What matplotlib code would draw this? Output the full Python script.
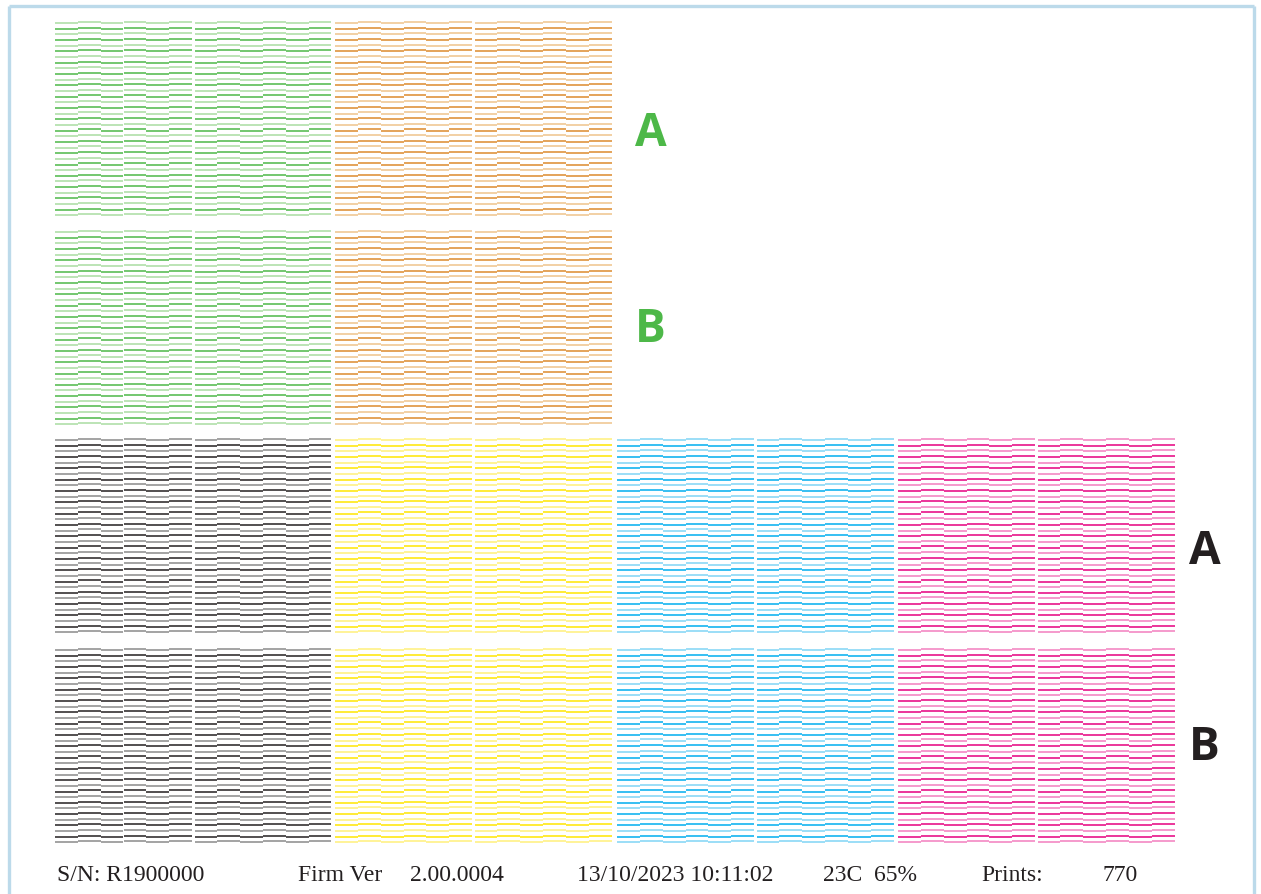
import numpy as np
import matplotlib
matplotlib.use("Agg")
from matplotlib import pyplot as plt
from matplotlib.collections import LineCollection

# ink channels (dark shade, light shade)
top_inks = ["green", "orange"]
bottom_inks = ["black", "yellow", "cyan", "magenta"]
ink_colors = {
    "green": ("#4db848", "#a9dca2"),
    "orange": ("#dc8a2c", "#efc48c"),
    "black": ("#231f20", "#8a8a8a"),
    "yellow": ("#ffe600", "#fff07a"),
    "cyan": ("#00aeef", "#80d4f5"),
    "magenta": ("#e6007e", "#f27fbe"),
}
row_labels = ["A", "B"]
n_rows = 35
n_segments = 6
n_halves = 2

footer = [
    ("S/N: R1900000", 57),
    ("Firm Ver", 298),
    ("2.00.0004", 410),
    ("13/10/2023 10:11:02", 577),
    ("23C  65%", 823),
    ("Prints:", 981),
    ("770", 1102),
]

W, H = 1261, 894
fig = plt.figure(figsize=(W / 100, H / 100), dpi=100)
ax = fig.add_axes([0, 0, 1, 1])
ax.set_xlim(0, W)
ax.set_ylim(H, 0)
ax.axis("off")

half_w = 137.0
seg_w = half_w / n_segments
row_step = 5.66
stagger = 1.1


def draw_block(x0, y0, ink):
    dark, light = ink_colors[ink]
    segs, cols = [], []
    for h in range(n_halves):
        hx = x0 + h * (half_w + 2.5)
        for s in range(n_segments):
            sx = hx + s * seg_w
            dy = -stagger if s % 2 else 0.0
            for r in range(n_rows):
                y = y0 + r * row_step + dy
                segs.append([(sx, y), (sx + seg_w, y)])
                cols.append(light if r % 2 == 0 else dark)
    ax.add_collection(LineCollection(segs, colors=cols, linewidths=1.1, capstyle="butt"))


top_x = [55, 335]
bottom_x = [55, 335, 617, 898]
top_y = [23, 232]
bottom_y = [440, 650]
top_label_y = [134, 329]
bottom_label_y = [551, 748]

for i, ink in enumerate(top_inks):
    for y0 in top_y:
        draw_block(top_x[i], y0, ink)
for i, ink in enumerate(bottom_inks):
    for y0 in bottom_y:
        draw_block(bottom_x[i], y0, ink)

for lab, y in zip(row_labels, top_label_y):
    ax.text(635, y, lab, color="#4db848", fontsize=33, fontweight="bold",
            family="Open Sans", va="center", ha="left")
for lab, y in zip(row_labels, bottom_label_y):
    ax.text(1189, y, lab, color="#231f20", fontsize=33, fontweight="bold",
            family="Open Sans", va="center", ha="left")

for txt, x in footer:
    ax.text(x, 881, txt, fontsize=17, family="Liberation Serif",
            color="#231f20", va="baseline", ha="left")

# light blue frame
fc = "#bcdaea"
ax.plot([8.5, 8.5], [H, 5.5], color=fc, lw=2.4, solid_capstyle="butt")
ax.plot([8.5, 1254], [5.5, 5.5], color=fc, lw=2.4, solid_capstyle="butt")
ax.plot([1254, 1254], [5.5, H], color=fc, lw=2.4, solid_capstyle="butt")

fig.savefig("out.png", dpi=100, facecolor="white")
